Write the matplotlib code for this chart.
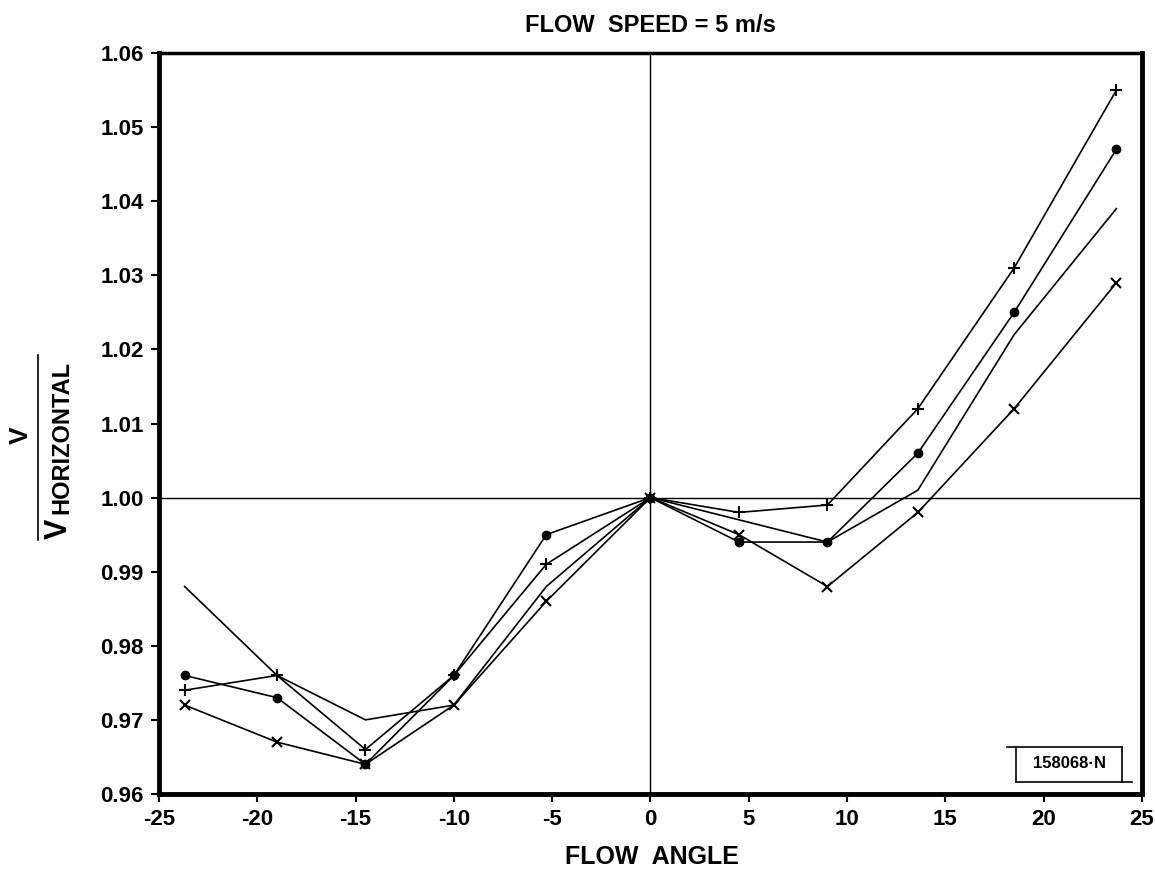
import numpy as np
import matplotlib.pyplot as plt
from matplotlib.lines import Line2D

plt.rcParams['font.family'] = ['Liberation Sans', 'DejaVu Sans']
plt.rcParams['font.weight'] = 'bold'

# flow angles (deg)
angles = [-23.7, -19.0, -14.5, -10.0, -5.3, 0.0, 4.5, 9.0, 13.6, 18.5, 23.7]

# V / V_horizontal, one list per probe curve
plus_vals = [0.974, 0.976, 0.966, 0.976, 0.991, 1.000, 0.998, 0.999, 1.012, 1.031, 1.055]
dot_vals = [0.976, 0.973, 0.964, 0.976, 0.995, 1.000, 0.994, 0.994, 1.006, 1.025, 1.047]
plain_vals = [0.988, 0.976, 0.970, 0.972, 0.988, 1.000, 0.997, 0.994, 1.001, 1.022, 1.039]
cross_vals = [0.972, 0.967, 0.964, 0.972, 0.986, 1.000, 0.995, 0.988, 0.998, 1.012, 1.029]

xticks = [-25, -20, -15, -10, -5, 0, 5, 10, 15, 20, 25]
yticks = [0.96, 0.97, 0.98, 0.99, 1.00, 1.01, 1.02, 1.03, 1.04, 1.05, 1.06]

W, H = 1155, 875
fig = plt.figure(figsize=(W / 100, H / 100), dpi=100)
ax = fig.add_axes([0.1377, 0.0926, 0.851, 0.8468])


def px(x, y):
    # pixel position (from top-left) -> figure fraction
    return x / W, 1 - y / H


ax.axhline(1.0, color='black', lw=1.0)
ax.axvline(0.0, color='black', lw=1.0)

ax.plot(angles, plus_vals, color='black', lw=1.2, marker='+', ms=8, mew=1.5)
ax.plot(angles, dot_vals, color='black', lw=1.2, marker='o', ms=6)
ax.plot(angles, plain_vals, color='black', lw=1.2)
ax.plot(angles, cross_vals, color='black', lw=1.2, marker='x', ms=7, mew=1.5)

ax.set_xlim(-25, 25)
ax.set_ylim(0.96, 1.06)
ax.set_xticks(xticks)
ax.set_xticklabels([str(t) for t in xticks])
ax.set_yticks(yticks)
ax.set_yticklabels([f'{t:.2f}' for t in yticks])
ax.tick_params(direction='out', length=6, width=1.5, labelsize=16, pad=5)
for side in ['left', 'bottom', 'right']:
    ax.spines[side].set_linewidth(3.5)
ax.spines['top'].set_linewidth(2.5)

# title and axis labels
fig.text(*px(650, 25), 'FLOW  SPEED = 5 m/s', ha='center', va='center',
         fontsize=17, fontweight='bold')
fig.text(*px(652, 857), 'FLOW  ANGLE', ha='center', va='center',
         fontsize=18, fontweight='bold')

# V / V_HORIZONTAL written as a rotated fraction
fig.text(*px(21, 435), 'V', rotation=90, ha='center', va='center', fontsize=19)
fig.add_artist(Line2D([38 / W, 38 / W], [1 - 355 / H, 1 - 540 / H],
                      transform=fig.transFigure, color='black', lw=1.2))
fig.text(*px(59, 529), 'V', rotation=90, ha='center', va='center', fontsize=22)
fig.text(*px(62, 437), 'HORIZONTAL', rotation=90, ha='center', va='center', fontsize=17)

# figure id box in lower right corner
box_lines = [
    ([1007, 1122], [747, 747]),
    ([1016, 1016], [747, 782]),
    ([1122, 1122], [747, 782]),
    ([1016, 1132], [782, 782]),
]
for xs, ys in box_lines:
    fig.add_artist(Line2D([x / W for x in xs], [1 - y / H for y in ys],
                          transform=fig.transFigure, color='black', lw=1.2))
fig.text(*px(1069, 763), '158068·N', ha='center', va='center', fontsize=12)

fig.savefig('out.png', dpi=100)
